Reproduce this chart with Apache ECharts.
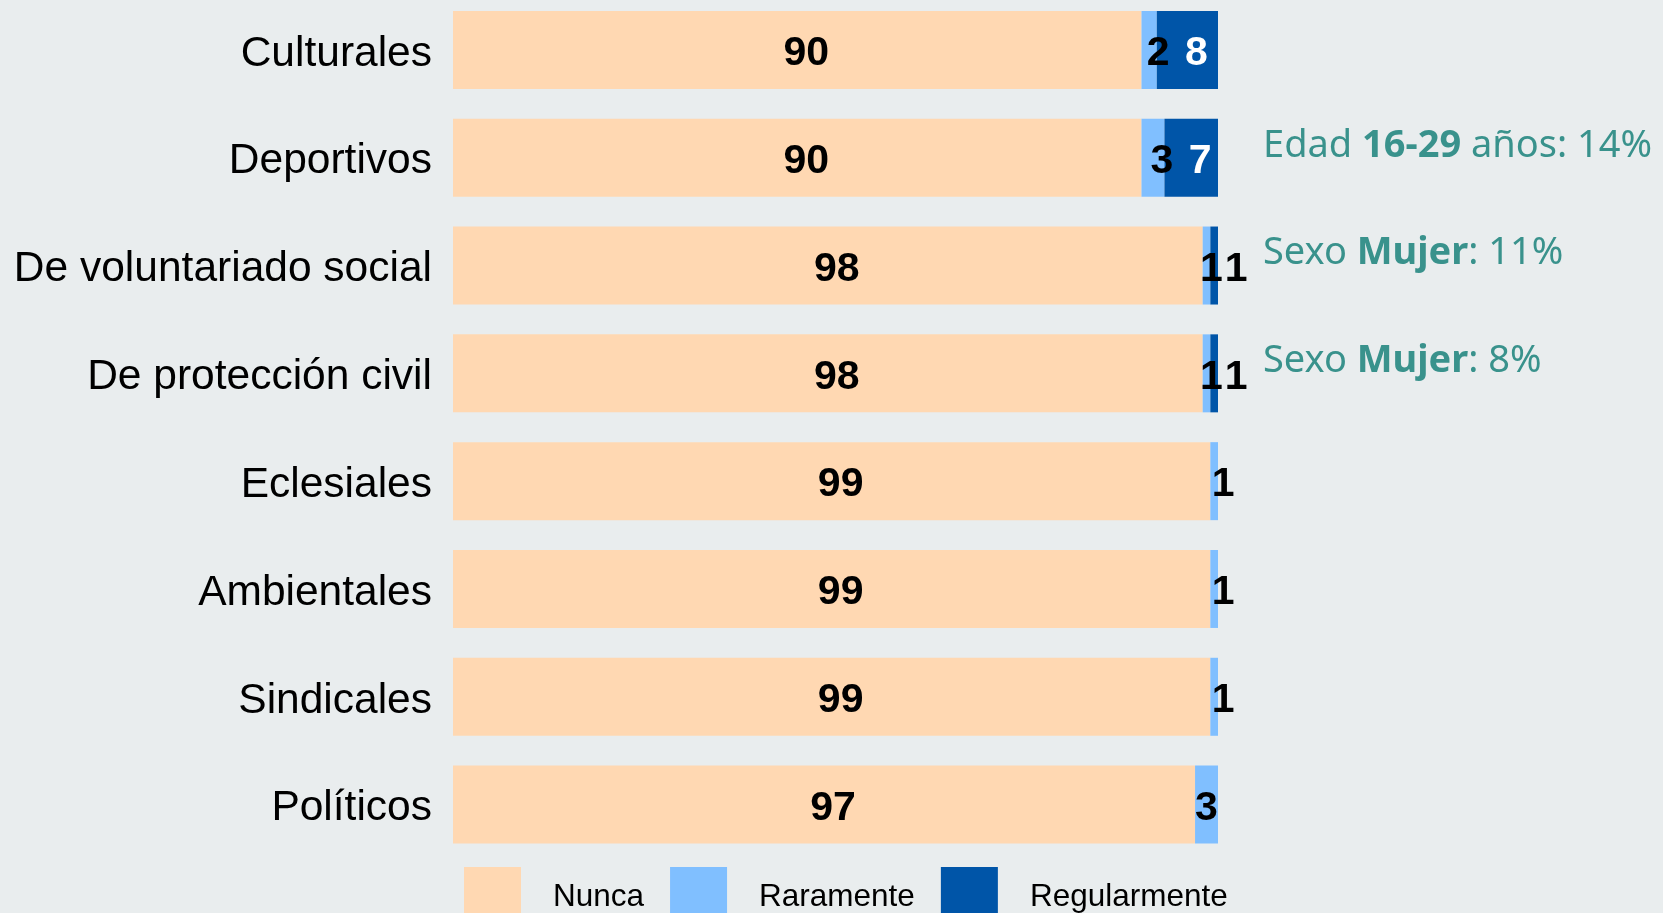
<!DOCTYPE html>
<html>
<head>
    <meta charset="utf-8">
    <title>ECharts</title>
    <script src="https://cdn.jsdelivr.net/npm/echarts@6/dist/echarts.min.js"></script>
</head>
<body style="margin:0;background:#e9edee;overflow:hidden;">
<!-- el lienzo sube 8px para que la primera barra quede pegada arriba -->
<div id="main" style="position:relative;top:-8px;width: 1663px;height:921px;"></div>
<script type="text/javascript">
    // datos del gráfico
    var categorias = ['Culturales', 'Deportivos', 'De voluntariado social', 'De protección civil',
        'Eclesiales', 'Ambientales', 'Sindicales', 'Políticos'];
    var nunca = [90, 90, 98, 98, 99, 99, 99, 97];
    var raramente = [2, 3, 1, 1, 1, 1, 1, 3];
    var regularmente = [8, 7, 1, 1, 0, 0, 0, 0];
    var notas = ['', 'Edad {b|16-29} años: 14%', 'Sexo {b|Mujer}: 11%', 'Sexo {b|Mujer}: 8%', '', '', '', ''];

    var myChart = echarts.init(document.getElementById('main'));

    var etiqueta = {
        show: true,
        position: 'inside',
        offset: [9, 4],
        color: '#000',
        fontFamily: 'Liberation Sans',
        fontWeight: 'bold',
        fontSize: 41,
        formatter: function (p) { return p.value ? p.value : ''; }
    };

    // "1" de regularmente queda fuera de la barra, en negro
    var datosReg = regularmente.map(function (v) {
        if (v >= 5) return {value: v, label: {color: '#fff'}};
        return {value: v, label: {offset: [22, 4]}};
    });
    var datosRar = raramente.map(function (v, i) {
        if (i == 7) return {value: v, label: {offset: [0, 4]}};
        if (regularmente[i] > 0 && regularmente[i] < 5) return {value: v, label: {offset: [5, 4]}};
        return v;
    });
    var datosNotas = notas.map(function (t, i) {
        return {value: [100, i], label: {formatter: t}};
    });

    var option = {
        backgroundColor: '#e9edee',
        animation: false,
        grid: {left: 453, width: 765, top: 4, height: 862.5},
        legend: {
            data: ['Nunca', 'Raramente', 'Regularmente'],
            left: 459,
            top: 870,
            icon: 'rect',
            itemWidth: 57,
            itemHeight: 60,
            itemGap: 26,
            textStyle: {fontFamily: 'Liberation Sans', fontSize: 31.5, color: '#000', padding: [0, 0, 0, 27]}
        },
        xAxis: {type: 'value', min: 0, max: 100, show: false},
        yAxis: {
            type: 'category',
            data: categorias,
            inverse: true,
            axisLine: {show: false},
            axisTick: {show: false},
            axisLabel: {
                margin: 21,
                formatter: function (v) { return '{c|' + v + '}'; },
                rich: {c: {fontFamily: 'Liberation Sans', fontSize: 42.5, color: '#000', padding: [8, 0, 0, 0]}}
            }
        },
        series: [
            {name: 'Nunca', type: 'bar', stack: 'total', barWidth: 78, data: nunca,
                itemStyle: {color: '#ffd8b2'}, label: etiqueta},
            {name: 'Raramente', type: 'bar', stack: 'total', barWidth: 78, data: datosRar,
                itemStyle: {color: '#80bfff'}, label: etiqueta},
            {name: 'Regularmente', type: 'bar', stack: 'total', barWidth: 78, data: datosReg,
                itemStyle: {color: '#0055a8'}, label: etiqueta},
            {
                name: 'notas', type: 'scatter', symbolSize: 0, data: datosNotas, silent: true,
                label: {
                    show: true, position: 'right', distance: 45, offset: [0, -12],
                    fontFamily: 'Noto Sans', fontSize: 38, color: '#0c7a73',
                    rich: {b: {fontFamily: 'Noto Sans', fontSize: 38, fontWeight: 'bold', color: '#0c7a73'}}
                }
            }
        ]
    };

    myChart.setOption(option);
</script>
</body>
</html>
